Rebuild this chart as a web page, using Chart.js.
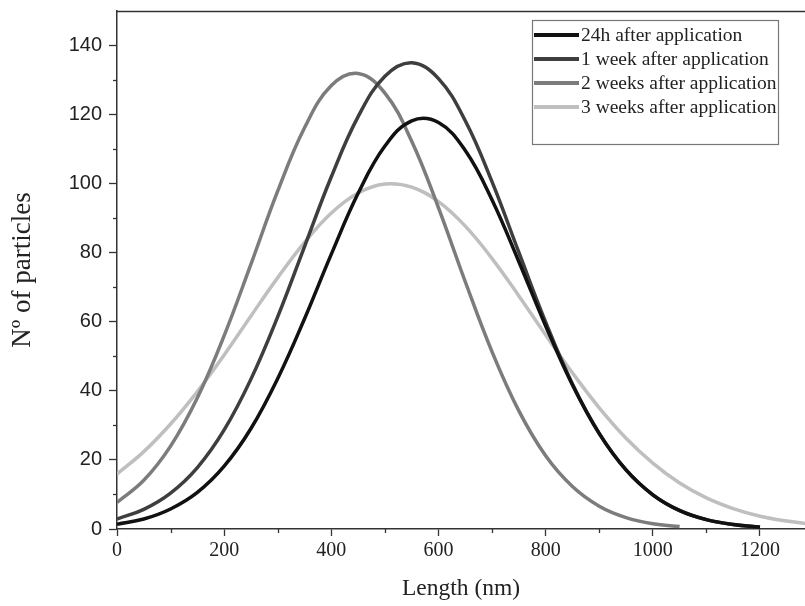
<!DOCTYPE html>
<html>
<head>
<meta charset="utf-8">
<script src="https://cdn.jsdelivr.net/npm/chart.js@4/dist/chart.umd.min.js"></script>
<style>
  html, body { margin: 0; padding: 0; background: #fff; }
  #wrap { width: 805px; height: 606px; position: relative; }
</style>
</head>
<body>
<div id="wrap"><canvas id="c" width="805" height="606"></canvas></div>
<script>
// Length (nm) sample positions
const lengths = [0,50,100,150,200,250,300,350,400,450,500,550,600,650,700,750,800,850,900,950,1000,1050,1100,1150,1200,1250,1300];
// Number of particles per series
const h24   = [1.4,2.9,5.8,10.6,18.2,29.1,43.6,60.9,79.6,97.2,110.9,118.2,117.7,109.6,95.3,77.4,58.8,41.7,27.6,17.1,9.9,5.3,2.7,1.3,0.5,null,null];
const week1 = [2.9,5.7,10.4,17.8,28.7,43.4,61.5,81.8,102.0,119.4,131.1,135.0,130.4,118.2,100.5,80.1,59.9,42.0,27.7,17.1,9.9,5.4,2.7,1.3,0.6,null,null];
const week2 = [7.7,14.1,24.0,38.0,56.0,76.7,97.9,116.2,128.4,131.9,126.2,112.3,93.0,71.6,51.3,34.2,21.2,12.3,6.6,3.3,1.5,0.7,null,null,null,null,null];
const week3 = [15.9,22.4,30.4,39.8,50.4,61.7,72.8,83.0,91.5,97.3,99.9,99.0,94.8,87.7,78.3,67.5,56.2,45.2,35.1,26.3,19.1,13.3,9.0,5.9,3.7,2.3,1.3];
const seriesLabels = ['24h after application','1 week after application','2 weeks after application','3 weeks after application'];
const seriesColors = ['#111111','#3e3e3e','#7c7c7c','#bfbfbf'];
const xTitle = 'Length (nm)';
const yTitle = 'Nº of particles';

const seriesValues = [h24, week1, week2, week3];
const datasets = seriesValues.map((vals, i) => ({
  label: seriesLabels[i],
  data: vals.map((v, j) => ({x: lengths[j], y: v})),
  borderColor: seriesColors[i],
  backgroundColor: seriesColors[i],
  borderWidth: 3.5,
  pointRadius: 0,
  tension: 0.4,
  fill: false,
  spanGaps: false
}));

const frame = {
  id: 'frame',
  afterDraw(chart) {
    const ctx = chart.ctx;
    const a = chart.chartArea;
    const xs = chart.scales.x, ys = chart.scales.y;
    ctx.save();
    ctx.strokeStyle = '#333';
    ctx.lineWidth = 1.5;
    // top border
    ctx.beginPath();
    ctx.moveTo(a.left, a.top + 0.5);
    ctx.lineTo(a.right, a.top + 0.5);
    ctx.stroke();
    // minor ticks
    ctx.lineWidth = 1.3;
    for (let v = 10; v < 150; v += 20) {
      const p = Math.round(ys.getPixelForValue(v)) + 0.5;
      ctx.beginPath(); ctx.moveTo(a.left - 4, p); ctx.lineTo(a.left, p); ctx.stroke();
    }
    for (let v = 100; v < 1284; v += 200) {
      const p = Math.round(xs.getPixelForValue(v)) + 0.5;
      ctx.beginPath(); ctx.moveTo(p, a.bottom); ctx.lineTo(p, a.bottom + 4); ctx.stroke();
    }
    // legend
    const lx = 532, ly = 20, lw = 246, lh = 124;
    ctx.lineWidth = 1.2;
    ctx.strokeStyle = '#777';
    ctx.strokeRect(lx + 0.5, ly + 0.5, lw, lh);
    ctx.font = '19.5px "Liberation Serif"';
    ctx.textBaseline = 'middle';
    ctx.textAlign = 'left';
    chart.data.datasets.forEach((ds, i) => {
      const y = 35 + 24 * i;
      ctx.strokeStyle = ds.borderColor;
      ctx.lineWidth = 4;
      ctx.beginPath(); ctx.moveTo(lx + 2, y); ctx.lineTo(lx + 47, y); ctx.stroke();
      ctx.fillStyle = '#222';
      ctx.fillText(ds.label, lx + 49, y + 1);
    });
    ctx.restore();
  }
};

new Chart(document.getElementById('c'), {
  type: 'line',
  data: { datasets },
  options: {
    responsive: false,
    animation: false,
    devicePixelRatio: 1,
    layout: { padding: { top: 11, right: 0, left: 0, bottom: 0 } },
    plugins: { legend: { display: false }, tooltip: { enabled: false } },
    scales: {
      x: {
        type: 'linear',
        min: 0, max: 1284,
        afterFit(s) { s.height = 77; s.paddingRight = 0; },
        ticks: { stepSize: 200, includeBounds: false, color: '#222', padding: 3,
                 callback: v => String(v),
                 font: { family: '"Liberation Serif"', size: 20 }, maxRotation: 0 },
        grid: { drawOnChartArea: false, drawTicks: true, tickLength: 7, tickColor: '#333', tickWidth: 1.3 },
        border: { color: '#333', width: 1.5 },
        title: { display: true, text: xTitle, color: '#222',
                 font: { family: '"Liberation Serif"', size: 23.5 }, padding: { top: 0, bottom: 3 } }
      },
      y: {
        min: 0, max: 150,
        afterFit(s) { s.width = 117; s.paddingTop = 0; s.paddingBottom = 0; },
        ticks: { stepSize: 20, includeBounds: false, color: '#222', padding: 7,
                 callback: v => String(v),
                 font: { family: '"Liberation Sans"', size: 20 } },
        grid: { drawOnChartArea: false, drawTicks: true, tickLength: 8, tickColor: '#333', tickWidth: 1.3 },
        border: { color: '#333', width: 1.5 },
        title: { display: true, text: yTitle, color: '#222',
                 font: { family: '"Liberation Serif"', size: 27 }, padding: { top: 7, bottom: 0 } }
      }
    }
  },
  plugins: [frame]
});
</script>
</body>
</html>
